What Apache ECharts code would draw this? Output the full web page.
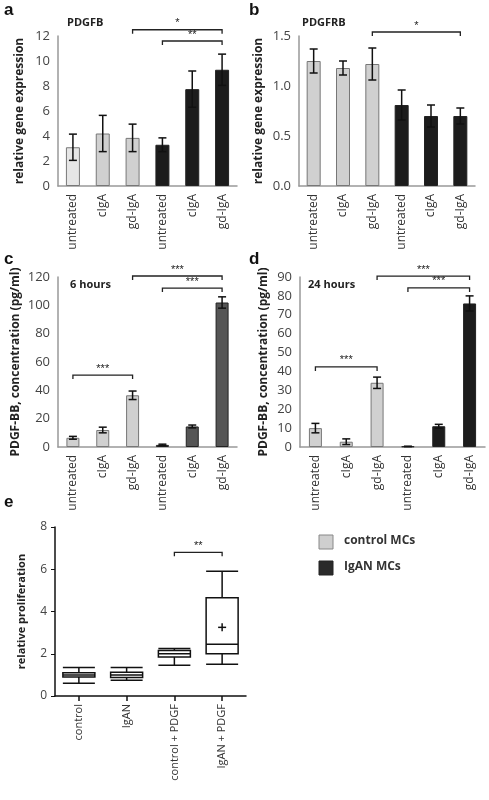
<!DOCTYPE html>
<html><head><meta charset="utf-8">
<script src="https://cdn.jsdelivr.net/npm/echarts@6/dist/echarts.min.js"></script>
<style>html,body{margin:0;background:#fff}#c{width:489px;height:800px}</style>
</head><body><div id="c"></div>
<script>
const cats = ['untreated','cIgA','gd-IgA','untreated','cIgA','gd-IgA'];
// panel a PDGFB
const aVal = [3.1,4.2,3.85,3.3,7.75,9.3];
const aErr = [1.05,1.45,1.1,0.55,1.45,1.25];
// panel b PDGFRB
const bVal = [1.25,1.18,1.22,0.81,0.70,0.70];
const bErr = [0.12,0.07,0.16,0.15,0.11,0.08];
// panel c 6 hours
const cVal = [6.5,12,36.5,1.5,14.5,102];
const cErr = [1,2,3,0.5,1,4];
// panel d 24 hours
const dVal = [10,2.8,34,0.3,11,76];
const dErr = [2.5,1.5,3,0.1,1,4];
// panel e proliferation
const eCats = ['control','IgAN','control + PDGF','IgAN + PDGF'];
const eBox = [[0.6,0.9,1.0,1.1,1.35],[0.75,0.88,1.0,1.12,1.35],[1.45,1.85,2.0,2.15,2.25],[1.5,2.0,2.45,4.65,5.9]];
const eMean = [1.0,1.0,2.0,3.25];

const LIGHT0='#e6e6e6', LIGHT='#d0d0d0', DARK='#1c1c1c', MID='#555555';
function colored(vals, c1, c2, first){return vals.map((v,i)=>({value:v,itemStyle:{color:i===0&&first?first:(i<3?c1:c2),borderColor:i<3?'#777':'#222',borderWidth:1}}));}

function errSeries(idx, vals, errs){
  return {type:'custom',xAxisIndex:idx,yAxisIndex:idx,clip:false,z:5,
    data: vals.map((v,i)=>[i,v-errs[i],v+errs[i]]),
    renderItem:(p,api)=>{const lo=api.coord([api.value(0),api.value(1)]),hi=api.coord([api.value(0),api.value(2)]);
      const s={stroke:'#111',lineWidth:1.5};
      return {type:'group',children:[
        {type:'line',shape:{x1:lo[0],y1:lo[1],x2:hi[0],y2:hi[1]},style:s},
        {type:'line',shape:{x1:lo[0]-4,y1:lo[1],x2:lo[0]+4,y2:lo[1]},style:s},
        {type:'line',shape:{x1:hi[0]-4,y1:hi[1],x2:hi[0]+4,y2:hi[1]},style:s}]};}};
}
function bracketSeries(idx, list){
  return {type:'custom',xAxisIndex:idx,yAxisIndex:idx,clip:false,z:6,
    data:list.map(b=>[b[0],b[1],b[2]]),
    renderItem:(p,api)=>{const a=api.coord([api.value(0),api.value(2)]),b=api.coord([api.value(1),api.value(2)]);
      const lab=list[p.dataIndex][3];
      return {type:'group',children:[
        {type:'polyline',shape:{points:[[a[0],a[1]+4],[a[0],a[1]],[b[0],b[1]],[b[0],b[1]+4]]},style:{stroke:'#222',lineWidth:1.3,fill:null}},
        {type:'text',style:{text:lab,x:(a[0]+b[0])/2,y:a[1]-1,align:'center',verticalAlign:'bottom',fontSize:11,fill:'#222',font:'bold 11px "DejaVu Sans"'}}]};}};
}
const grids=[
  {left:58,top:36,width:179,height:150},
  {left:299,top:36,width:176,height:150},
  {left:58,top:277,width:179,height:170},
  {left:300,top:277,width:185,height:170},
  {left:55,top:527,width:191,height:169}];
const axisGray={lineStyle:{color:'#999',width:1.5}};
function xCat(idx,data,e){return {type:'category',gridIndex:idx,data:data,boundaryGap:true,
  axisLine:e?{lineStyle:{color:'#111',width:1.5}}:axisGray,
  axisTick:e?{show:true,alignWithLabel:true,length:5,lineStyle:{color:'#111',width:1.5}}:{show:false},
  axisLabel:{rotate:90,fontSize:e?11:12,color:'#333',fontFamily:'Open Sans',margin:8}};}
function yVal(idx,min,max,step,name,gap,fmt,e){return {type:'value',gridIndex:idx,min:min,max:max,interval:step,
  name:name,nameLocation:'middle',nameGap:gap,nameRotate:90,
  nameTextStyle:{fontWeight:'bold',fontSize:e?11:12,color:'#222',fontFamily:'Open Sans'},
  axisLine:{show:true,lineStyle:{color:e?'#111':'#999',width:1.5}},
  axisTick:{show:!!e,length:4,lineStyle:{color:'#111'}},splitLine:{show:false},
  axisLabel:{fontSize:e?12:13,color:'#444',fontFamily:'Open Sans',formatter:fmt||(v=>v)}};}

const opt={animation:false,
  grid:grids,
  xAxis:[xCat(0,cats),xCat(1,cats),xCat(2,cats),xCat(3,cats),xCat(4,eCats,true)],
  yAxis:[yVal(0,0,12,2,'relative gene expression',32),
         yVal(1,0,1.5,0.5,'relative gene expression',34,v=>v.toFixed(1)),
         yVal(2,0,120,20,'PDGF-BB, concentration (pg/ml)',36),
         yVal(3,0,90,10,'PDGF-BB, concentration (pg/ml)',30),
         yVal(4,0,8,2,'relative proliferation',28,null,true)],
  series:[
    {type:'bar',xAxisIndex:0,yAxisIndex:0,barWidth:14,data:colored(aVal,LIGHT,DARK,LIGHT0)},
    errSeries(0,aVal,aErr),
    bracketSeries(0,[[2,5,12.5,'*'],[3,5,11.6,'**']]),
    {type:'bar',xAxisIndex:1,yAxisIndex:1,barWidth:14,data:colored(bVal,LIGHT,DARK)},
    errSeries(1,bVal,bErr),
    bracketSeries(1,[[2,5,1.54,'*']]),
    {type:'bar',xAxisIndex:2,yAxisIndex:2,barWidth:13,data:colored(cVal,LIGHT,MID)},
    errSeries(2,cVal,cErr),
    bracketSeries(2,[[2,5,120.7,'***'],[3,5,112.2,'***'],[0,2,50.8,'***']]),
    {type:'bar',xAxisIndex:3,yAxisIndex:3,barWidth:13,data:colored(dVal,LIGHT,DARK)},
    errSeries(3,dVal,dErr),
    bracketSeries(3,[[2,5,90.5,'***'],[3,5,84.2,'***'],[0,2,42.4,'***']]),
    {type:'boxplot',xAxisIndex:4,yAxisIndex:4,data:eBox,boxWidth:[32,32],
      itemStyle:{color:'#fff',borderColor:'#111',borderWidth:1.5}},
    {type:'custom',xAxisIndex:4,yAxisIndex:4,clip:false,z:6,data:eMean.map((m,i)=>[i,m]),
      renderItem:(p,api)=>{if(p.dataIndex<3)return null;const c=api.coord([api.value(0),api.value(1)]);const s={stroke:'#111',lineWidth:1.5};
        return {type:'group',children:[{type:'line',shape:{x1:c[0]-4,y1:c[1],x2:c[0]+4,y2:c[1]},style:s},{type:'line',shape:{x1:c[0],y1:c[1]-4,x2:c[0],y2:c[1]+4},style:s}]};}},
    bracketSeries(4,[[2,3,6.8,'**']])
  ],
  graphic:[
    {type:'text',left:4,top:2,style:{text:'a',font:'bold 17px Arial',fill:'#111'}},
    {type:'text',left:249,top:2,style:{text:'b',font:'bold 17px Arial',fill:'#111'}},
    {type:'text',left:4,top:251,style:{text:'c',font:'bold 17px Arial',fill:'#111'}},
    {type:'text',left:249,top:251,style:{text:'d',font:'bold 17px Arial',fill:'#111'}},
    {type:'text',left:4,top:494,style:{text:'e',font:'bold 17px Arial',fill:'#111'}},
    {type:'text',left:67,top:17,style:{text:'PDGFB',font:'bold 11px "Open Sans"',fill:'#222'}},
    {type:'text',left:302,top:17,style:{text:'PDGFRB',font:'bold 11px "Open Sans"',fill:'#222'}},
    {type:'text',left:70,top:279,style:{text:'6 hours',font:'bold 11px "Open Sans"',fill:'#222'}},
    {type:'text',left:308,top:279,style:{text:'24 hours',font:'bold 11px "Open Sans"',fill:'#222'}},
    {type:'rect',shape:{x:319,y:535,width:14,height:14},style:{fill:'#cfcfcf',stroke:'#888'}},
    {type:'rect',shape:{x:319,y:561,width:14,height:14},style:{fill:'#2a2a2a',stroke:'#222'}},
    {type:'text',left:344,top:535,style:{text:'control MCs',font:'bold 12px "Open Sans"',fill:'#333'}},
    {type:'text',left:344,top:561,style:{text:'IgAN MCs',font:'bold 12px "Open Sans"',fill:'#333'}}
  ]};
echarts.init(document.getElementById('c')).setOption(opt);
</script></body></html>
